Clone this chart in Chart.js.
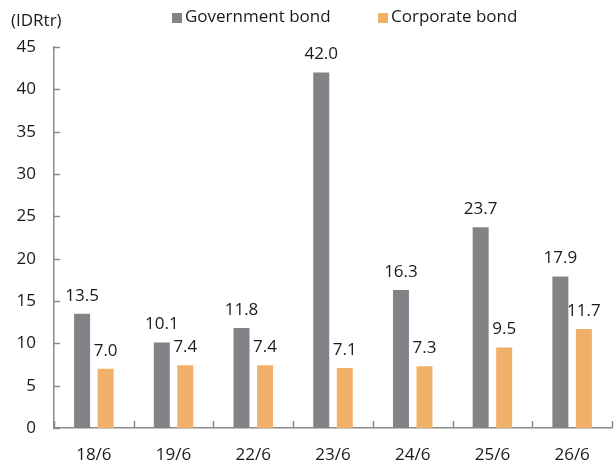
<!DOCTYPE html>
<html>
<head>
<meta charset="utf-8">
<script src="https://cdn.jsdelivr.net/npm/chart.js@4"></script>
<style>
  body { margin: 0; background: #fff; }
  canvas { display: block; }
</style>
</head>
<body>
<canvas id="myChart" width="616" height="466"></canvas>
<script>
// chart data
const categories = ['18/6', '19/6', '22/6', '23/6', '24/6', '25/6', '26/6'];
const governmentBond = [13.5, 10.1, 11.8, 42.0, 16.3, 23.7, 17.9];
const corporateBond = [7.0, 7.4, 7.4, 7.1, 7.3, 9.5, 11.7];
const yTicks = [0, 5, 10, 15, 20, 25, 30, 35, 40, 45];

const FONT = 'Open Sans';
const FONT_SIZE = 17;
const AXIS_COLOR = '#8a8a8a';

// value labels above every bar
const barLabels = {
  id: 'barLabels',
  afterDatasetsDraw(chart) {
    const ctx = chart.ctx;
    ctx.save();
    ctx.font = FONT_SIZE + 'px "' + FONT + '"';
    ctx.fillStyle = '#1a1a1a';
    ctx.textAlign = 'center';
    ctx.textBaseline = 'middle';
    chart.data.datasets.forEach((ds, i) => {
      chart.getDatasetMeta(i).data.forEach((bar, j) => {
        ctx.fillText(ds.data[j].toFixed(1), bar.x, bar.y - 18);
      });
    });
    ctx.restore();
  }
};

// inward tick marks, unit label and legend
const extras = {
  id: 'extras',
  afterDraw(chart) {
    const ctx = chart.ctx;
    const x = chart.scales.x, y = chart.scales.y;
    const area = chart.chartArea;
    ctx.save();
    ctx.strokeStyle = AXIS_COLOR;
    ctx.lineWidth = 1.5;
    yTicks.forEach(v => {
      const py = Math.round(y.getPixelForValue(v)) + 0.5;
      ctx.beginPath();
      ctx.moveTo(area.left, py);
      ctx.lineTo(area.left + 6, py);
      ctx.stroke();
    });
    for (let i = 0; i <= categories.length; i++) {
      const px = Math.round(x.getPixelForValue(i - 0.5)) + 0.5;
      ctx.beginPath();
      ctx.moveTo(px, area.bottom);
      ctx.lineTo(px, area.bottom - 7);
      ctx.stroke();
    }

    ctx.font = FONT_SIZE + 'px "' + FONT + '"';
    ctx.fillStyle = '#1a1a1a';
    ctx.textBaseline = 'middle';
    ctx.textAlign = 'left';
    ctx.fillText('(IDRtr)', 11, 21);

    const legendX = [172, 378];
    chart.data.datasets.forEach((ds, i) => {
      ctx.fillStyle = ds.backgroundColor;
      ctx.fillRect(legendX[i], 13, 10, 10);
      ctx.fillStyle = '#1a1a1a';
      ctx.fillText(ds.label, legendX[i] + 13, 17);
    });
    ctx.restore();
  }
};

const ctx = document.getElementById('myChart').getContext('2d');
const myChart = new Chart(ctx, {
  type: 'bar',
  data: {
    labels: categories,
    datasets: [
      { label: 'Government bond', data: governmentBond, backgroundColor: '#818386' },
      { label: 'Corporate bond', data: corporateBond, backgroundColor: '#f1b067' }
    ]
  },
  options: {
    responsive: false,
    animation: false,
    layout: { padding: { top: 47, right: 4, bottom: 0, left: 0 } },
    datasets: { bar: { categoryPercentage: 0.59, barPercentage: 0.68 } },
    plugins: { legend: { display: false }, tooltip: { enabled: false } },
    scales: {
      x: {
        afterFit(scale) { scale.height = 38; },
        grid: { display: false, drawTicks: false },
        border: { color: AXIS_COLOR, width: 1.5 },
        ticks: { padding: 17, color: '#1a1a1a', font: { family: FONT, size: FONT_SIZE } }
      },
      y: {
        min: 0,
        max: 45,
        afterFit(scale) { scale.width = 54; },
        afterBuildTicks(scale) { scale.ticks = yTicks.map(v => ({ value: v })); },
        grid: { display: false, drawTicks: false },
        border: { color: AXIS_COLOR, width: 1.5 },
        ticks: { padding: 18, color: '#1a1a1a', font: { family: FONT, size: FONT_SIZE } }
      }
    }
  },
  plugins: [barLabels, extras]
});
</script>
</body>
</html>
